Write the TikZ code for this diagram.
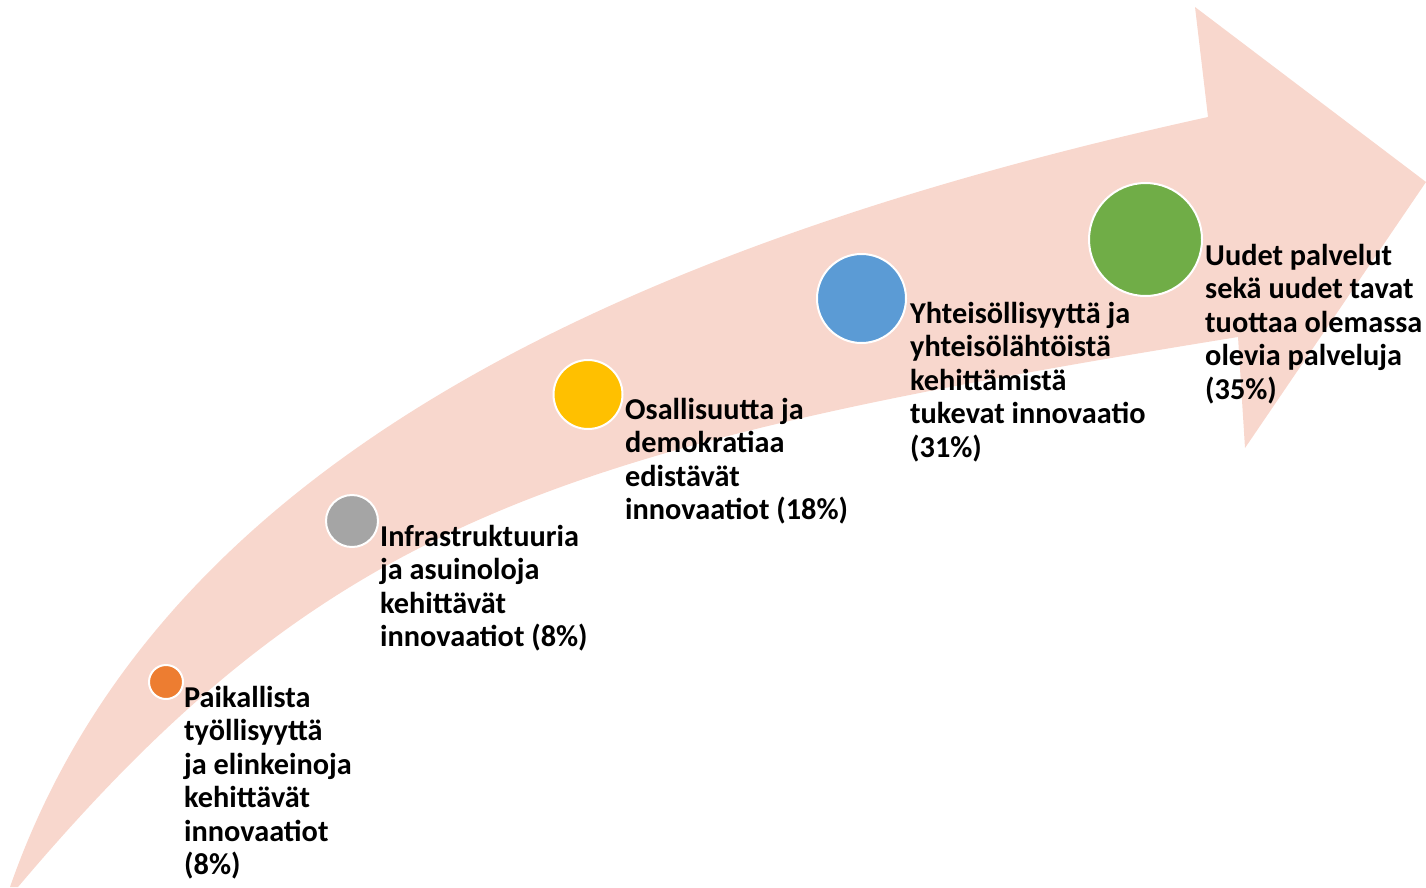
\documentclass[tikz,border=0pt]{standalone}
\usepackage{fontspec}
\setmainfont{Carlito}
\definecolor{arrowpink}{HTML}{F8D7CD}
\definecolor{cOrange}{HTML}{ED7D31}
\definecolor{cGray}{HTML}{A5A5A5}
\definecolor{cYellow}{HTML}{FFC000}
\definecolor{cBlue}{HTML}{5B9BD5}
\definecolor{cGreen}{HTML}{70AD47}
\tikzset{
  dot/.style={circle, draw=white, line width=2pt, inner sep=0pt},
  lbl/.style={anchor=base west, align=left, inner sep=0pt,
    font=\fontsize{30.3}{33.5}\selectfont\bfseries}
}
\begin{document}
\begin{tikzpicture}[x=1pt,y=-1pt]
\useasboundingbox (0,0) rectangle (1426,887);
% big curved arrow
\fill[arrowpink] (10,887) .. controls (141,512) and (525,267) .. (1208,117)
  -- (1195,7) -- (1426,182) -- (1245,448) -- (1238,337)
  .. controls (558,447) and (330,518) .. (18,887) -- cycle;
% circles
\node[dot, fill=cOrange, minimum size=34pt] (c1) at (166,682) {};
\node[dot, fill=cGray, minimum size=52pt] (c2) at (352,521) {};
\node[dot, fill=cYellow, minimum size=69pt] (c3) at (588,394.5) {};
\node[dot, fill=cBlue, minimum size=89pt] (c4) at (861.5,298.5) {};
\node[dot, fill=cGreen, minimum size=113pt] (c5) at (1145.5,239.5) {};
% labels (anchor = baseline of the last line)
\node[lbl] (t1) at (184,874.5) {Paikallista\\työllisyyttä\\ja elinkeinoja\\kehittävät\\innovaatiot\\(8\%)};
\node[lbl] (t2) at (380,646.5) {Infrastruktuuria\\ja asuinoloja\\kehittävät\\innovaatiot (8\%)};
\node[lbl] (t3) at (625,519.5) {Osallisuutta ja\\demokratiaa\\edistävät\\innovaatiot (18\%)};
\node[lbl] (t4) at (910,457) {Yhteisöllisyyttä ja\\yhteisölähtöistä\\kehittämistä\\tukevat innovaatio\\(31\%)};
\node[lbl] (t5) at (1205,399) {Uudet palvelut\\sekä uudet tavat\\tuottaa olemassa\\olevia palveluja\\(35\%)};
\end{tikzpicture}
\end{document}
